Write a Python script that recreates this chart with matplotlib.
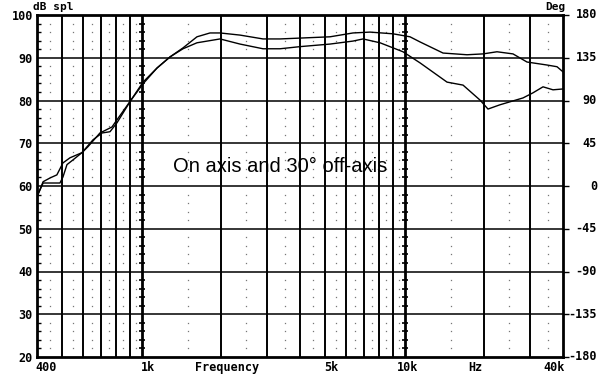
import numpy as np
import matplotlib.pyplot as plt
from matplotlib.transforms import blended_transform_factory

# on-axis response (Hz, dB)
freq_on = [400, 422, 449, 476, 502, 534, 593, 625, 694, 771, 806, 911, 1012, 1144,
           1282, 1436, 1623, 1819, 1986, 2366, 2894, 3358, 4000, 5201, 6362, 7384,
           9032, 10479, 11441, 13993, 17262, 19857, 22443, 25816, 29189, 34776,
           37956, 40000]
spl_on = [57.5, 61.0, 61.9, 62.6, 65.4, 66.6, 67.8, 69.2, 72.4, 73.8, 75.5, 80.1,
          84.3, 87.6, 90.2, 92.3, 94.9, 95.8, 95.8, 95.3, 94.4, 94.4, 94.6, 94.9,
          95.8, 96.0, 95.6, 94.9, 93.7, 91.1, 90.7, 90.9, 91.4, 90.9, 89.0, 88.3,
          87.9, 86.7]

# 30 degree off-axis response
freq_off = [400, 422, 449, 489, 502, 520, 548, 593, 653, 707, 758, 806, 911, 1012,
            1144, 1282, 1436, 1623, 1986, 2366, 2894, 3358, 4000, 5201, 6362, 6945,
            8061, 9855, 11441, 14492, 16673, 19343, 20744, 23042, 28185, 30764,
            33580, 36647, 40000]
spl_off = [57.5, 60.7, 60.7, 60.7, 62.1, 65.0, 66.1, 67.8, 70.8, 72.4, 72.7, 74.8,
           80.1, 83.9, 87.6, 90.2, 92.1, 93.5, 94.4, 93.2, 92.1, 92.1, 92.6, 93.2,
           93.9, 94.4, 93.5, 91.4, 88.8, 84.3, 83.6, 80.1, 78.0, 79.0, 80.6, 81.8,
           83.2, 82.5, 82.7]

major_f = [500, 600, 700, 800, 900, 2000, 3000, 4000, 5000, 6000, 7000, 8000,
           9000, 20000, 30000]
heavy_f = [1000, 10000]
minor_f = [450, 550, 650, 750, 850, 950, 1500, 2500, 3500, 4500, 5500, 6500,
           7500, 8500, 9500, 15000, 25000, 35000]
db_ticks = [20, 30, 40, 50, 60, 70, 80, 90, 100]
deg_ticks = [-180, -135, -90, -45, 0, 45, 90, 135, 180]

fig = plt.figure(figsize=(6, 3.85), dpi=100)
ax = fig.add_axes([37/600, 1-357/385, 526/600, 342/385])
ax.set_xscale('log')
ax.set_xlim(400, 40000)
ax.set_ylim(20, 100)

for f in major_f:
    ax.axvline(f, color='black', lw=1.4, zorder=1)
for f in heavy_f:
    ax.axvline(f, color='black', lw=2.0, zorder=1)
for d in db_ticks[1:-1]:
    ax.axhline(d, color='black', lw=1.1, zorder=1)

minor_db = [d for d in range(22, 100, 2) if d % 10]
mx, my = np.meshgrid(minor_f, minor_db)
ax.plot(mx.ravel(), my.ravel(), ls='none', marker='s', ms=0.9, mew=0,
        color='#777777', zorder=1)
# small ticks on the heavy lines
for f in heavy_f:
    ax.plot([f]*len(minor_db), minor_db, ls='none', marker='_', ms=5, mew=1.2,
            color='black', zorder=1)

ax.plot(freq_on, spl_on, color='black', lw=1.0, zorder=3)
ax.plot(freq_off, spl_off, color='black', lw=1.0, zorder=3)

for s in ax.spines.values():
    s.set_linewidth(2.0)

mono = dict(family='DejaVu Sans Mono', weight='bold', fontsize=8.5)
ax.set_yticks(db_ticks)
ax.set_yticklabels([str(d) for d in db_ticks], **mono)
ax.set_yticks(minor_db, minor=True)
ax.tick_params(axis='y', which='major', length=0, pad=3)
ax.tick_params(axis='y', which='minor', direction='in', length=3, width=1,
               right=True)
ax.set_xticks([])
ax.set_xticks([], minor=True)

# right-hand phase scale
ax2 = ax.twinx()
ax2.set_ylim(-180, 180)
ax2.set_yticks(deg_ticks)
ax2.set_yticklabels([])
ax2.tick_params(axis='y', length=4, width=1, direction='out')
for s in ax2.spines.values():
    s.set_visible(False)
tr_r = blended_transform_factory(ax2.transAxes, ax2.transData)
for d in deg_ticks:
    ax2.text(1 + 34/526, d, str(d), transform=tr_r, ha='right', va='center',
             **mono)

tr = blended_transform_factory(ax.transData, ax.transAxes)
bottom = [(400, '400', 'left', -0.2), (1000, '1k', 'left', -0.1),
          (2112, 'Frequency', 'center', 0), (5000, '5k', 'left', -0.15),
          (10000, '10k', 'center', 0.3), (18500, 'Hz', 'center', 0),
          (40000, '40k', 'right', 0.2)]
for f, s, ha, dx in bottom:
    ax.text(f * 10**(dx * 0.038), -0.012, s, transform=tr, ha=ha,
            va='top', **mono)

top = dict(family='DejaVu Sans Mono', weight='bold', fontsize=8)
ax.text(-4/526, 1 + 8/342, 'dB spl', transform=ax.transAxes, ha='left',
        va='center', **top)
ax.text(1 + 3/526, 1 + 8/342, 'Deg', transform=ax.transAxes, ha='right',
        va='center', **top)

ax.text(3362, 63.3, 'On axis and 30° off-axis', family='Liberation Sans',
        fontsize=14.5, ha='center', va='baseline', zorder=4)

fig.savefig('out.png', dpi=100)
